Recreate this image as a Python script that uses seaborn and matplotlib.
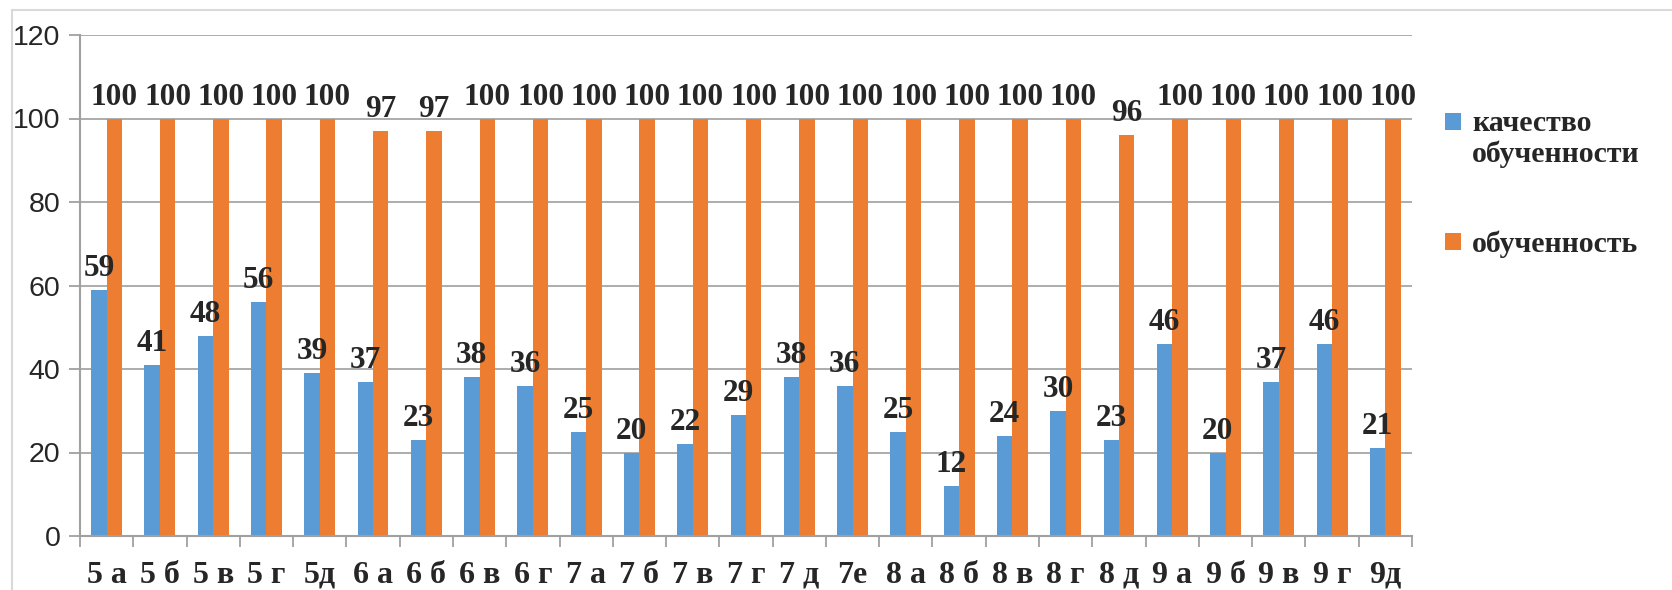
import numpy as np
import pandas as pd
import matplotlib
matplotlib.use("Agg")
import matplotlib.pyplot as plt
from matplotlib.patches import Rectangle
import seaborn as sns

# Data
CLASSES = ["5 а", "5 б", "5 в", "5 г", "5д", "6 а", "6 б", "6 в", "6 г",
           "7 а", "7 б", "7 в", "7 г", "7 д", "7е", "8 а", "8 б", "8 в",
           "8 г", "8 д", "9 а", "9 б", "9 в", "9 г", "9д"]
QUALITY = [59, 41, 48, 56, 39, 37, 23, 38, 36, 25, 20, 22, 29, 38, 36,
           25, 12, 24, 30, 23, 46, 20, 37, 46, 21]
LEARNED = [100, 100, 100, 100, 100, 97, 97, 100, 100, 100, 100, 100, 100,
           100, 100, 100, 100, 100, 100, 96, 100, 100, 100, 100, 100]
SERIES = ["качество\nобученности", "обученность"]
COLORS = ["#5B9BD5", "#ED7D31"]
Y_TICKS = [0, 20, 40, 60, 80, 100, 120]

df = pd.DataFrame({
    "class": CLASSES * 2,
    "value": QUALITY + LEARNED,
    "series": [SERIES[0]] * len(CLASSES) + [SERIES[1]] * len(CLASSES),
})

sns.set_style("white")
plt.rcParams["font.family"] = ["Liberation Sans", "DejaVu Sans"]

W, H = 1672, 590
fig = plt.figure(figsize=(W / 100, H / 100), dpi=100)
ax = fig.add_axes([80 / W, 1 - 536 / H, (1412 - 80) / W, (536 - 35) / H])

sns.barplot(data=df, x="class", y="value", hue="series", order=CLASSES,
            hue_order=SERIES, palette=COLORS, width=0.58, gap=0,
            saturation=1, legend=False, ax=ax, errorbar=None)

serif_bold = dict(family=["Liberation Serif", "DejaVu Serif"], weight="bold")

for cont, vals in zip(ax.containers, [QUALITY, LEARNED]):
    for bar in cont:
        bar.set_linewidth(0)
    ax.bar_label(cont, labels=[str(v) for v in vals], padding=5,
                 fontsize=22.5, **serif_bold)

ax.set_xlim(-0.5, len(CLASSES) - 0.5)
ax.set_ylim(0, 120)
ax.set_yticks(Y_TICKS)
ax.set_xlabel("")
ax.set_ylabel("")
ax.yaxis.grid(True, color="#a6a6a6", linewidth=1.3)
ax.set_axisbelow(True)

for side in ["top", "right"]:
    ax.spines[side].set_visible(False)
for side in ["left", "bottom"]:
    ax.spines[side].set_color("#a0a0a0")
    ax.spines[side].set_linewidth(1.5)

ax.tick_params(axis="y", which="major", direction="out", length=8,
               width=1.3, color="#a0a0a0", labelsize=20.5, pad=6, left=True)
ax.set_xticks(np.arange(len(CLASSES)))
ax.set_xticklabels(CLASSES, fontsize=23, **serif_bold)
ax.tick_params(axis="x", which="major", length=0, pad=18)
ax.set_xticks(np.arange(len(CLASSES) + 1) - 0.5, minor=True)
ax.tick_params(axis="x", which="minor", direction="out", length=8,
               width=1.3, color="#a0a0a0", bottom=True)

# legend drawn by hand to keep the squares aligned with the first text line
for color, label, ytop in zip(COLORS, SERIES, [113, 233]):
    fig.patches.append(Rectangle((1445 / W, 1 - (ytop + 17) / H), 16 / W, 17 / H,
                                 transform=fig.transFigure, facecolor=color,
                                 edgecolor="none"))
    fig.text(1472 / W, 1 - (ytop - 3) / H, label, ha="left", va="top",
             fontsize=21.5, linespacing=1.15, **serif_bold)

# chart outer frame
fig.patches.append(Rectangle((12 / W, -0.1), 1.2, 1 - 10 / H + 0.1,
                             transform=fig.transFigure, facecolor="none",
                             edgecolor="#d9d9d9", linewidth=1.5))

fig.savefig("out.png", dpi=100)
